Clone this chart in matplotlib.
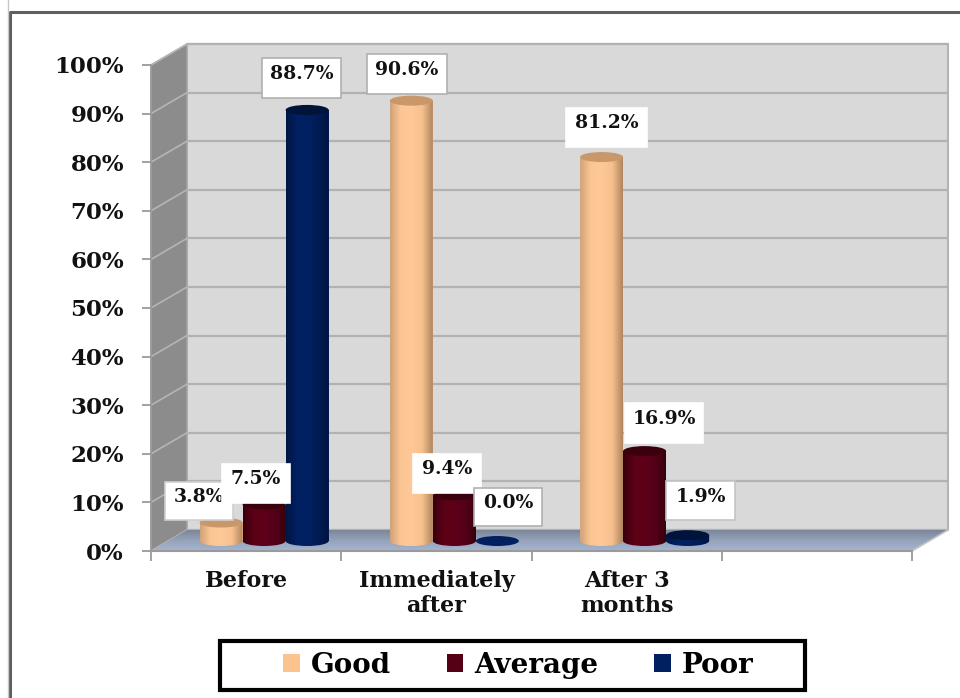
import numpy as np
import matplotlib
matplotlib.use("Agg")
import matplotlib.pyplot as plt
from matplotlib.patches import Ellipse, Patch, Rectangle, Polygon
from matplotlib.path import Path
from matplotlib.colors import LinearSegmentedColormap
from matplotlib.lines import Line2D

plt.rcParams['font.family'] = ['DejaVu Serif', 'Liberation Serif']
plt.rcParams['font.weight'] = 'bold'

categories = ["Before", "Immediately\nafter", "After 3\nmonths"]
series_names = ["Good", "Average", "Poor"]
good_heights = [3.8, 90.6, 79.0]
average_heights = [7.5, 9.4, 18.5]
poor_heights = [88.7, 0.0, 1.2]
good_labels = ["3.8%", "90.6%", "81.2%"]
average_labels = ["7.5%", "9.4%", "16.9%"]
poor_labels = ["88.7%", "0.0%", "1.9%"]
y_ticks = list(range(0, 101, 10))

W, H = 960, 698
L, R, T, B = 151, 912, 65, 551
fig = plt.figure(figsize=(W / 100, H / 100), dpi=100, facecolor='white')
ax = fig.add_axes([L / W, 1 - B / H, (R - L) / W, (B - T) / H])
ax.set_xlim(0, 4)
ax.set_ylim(0, 100)
ax.patch.set_visible(False)
pxx = 4 / (R - L)
pxy = 100 / (B - T)
DX, DY = 36 * pxx, 21 * pxy
mdx, mdy = 18 * pxx, 10 * pxy


def grad_fill(path, extent, colors, horizontal=True, z=2):
    cmap = LinearSegmentedColormap.from_list('g', colors)
    g = np.linspace(0, 1, 128)
    arr = g[None, :] if horizontal else g[:, None]
    im = ax.imshow(arr, extent=extent, cmap=cmap, aspect='auto', origin='lower',
                   zorder=z, interpolation='bilinear')
    im.set_clip_path(path, transform=ax.transData)
    im.set_clip_box(fig.bbox)
    return im


# walls
ax.add_patch(Polygon([(DX, DY), (4 + DX, DY), (4 + DX, 100 + DY), (DX, 100 + DY)],
                     fc='#d9d9d9', ec='#b4b4b4', lw=1.5, zorder=0, clip_on=False))
ax.add_patch(Polygon([(0, 0), (DX, DY), (DX, 100 + DY), (0, 100)],
                     fc='#8c8c8c', ec='#a8a8a8', lw=1, zorder=0.5, clip_on=False))
for v in y_ticks:
    ax.plot([DX, 4 + DX], [v + DY, v + DY], color='#b2b2b2', lw=1.6, zorder=1,
            clip_on=False, solid_capstyle='butt')
    ax.plot([0, DX], [v, v + DY], color='#b5b5b5', lw=1.2, zorder=1, clip_on=False)

# floor
floor_path = Path([(0, 0), (4, 0), (4 + DX, DY), (DX, DY), (0, 0)])
grad_fill(floor_path, (0, 4 + DX, 0, DY), ['#a6b5cf', '#95a3bb', '#7b8698'],
          horizontal=False, z=1.5)
ax.plot([4, 4 + DX], [0, DY], color='#c4c4c4', lw=1.2, zorder=1.6, clip_on=False)

palette = {
    "Good": (['#d0a27a', '#fcc694', '#ffc997', '#f7c08e', '#b08660'], '#c8976a'),
    "Average": (['#38000c', '#5c0016', '#5e0018', '#54001a', '#38000c'], '#3a000c'),
    "Poor": (['#001645', '#00205f', '#002163', '#001c55', '#001440'], '#001338'),
}
swatches = {"Good": '#fcc38f', "Average": '#560014', "Poor": '#002060'}

bw = 43 * pxx
eh = 10 * pxy
all_heights = [good_heights, average_heights, poor_heights]
for s, (name, heights) in enumerate(zip(series_names, all_heights)):
    cols, topc = palette[name]
    for c, h in enumerate(heights):
        xc = c + 0.5 + mdx + (s - 1) * bw
        if h > 0:
            ax.bar(xc, h, bw, bottom=mdy, color=cols[2], lw=0, zorder=3 + s)
            rp = Path([(xc - bw / 2, mdy), (xc + bw / 2, mdy), (xc + bw / 2, mdy + h),
                       (xc - bw / 2, mdy + h), (xc - bw / 2, mdy)])
            el = Ellipse((xc, mdy), bw, eh)
            ep = el.get_path().transformed(el.get_patch_transform())
            grad_fill(Path.make_compound_path(rp, ep),
                      (xc - bw / 2, xc + bw / 2, mdy - eh, mdy + h), cols, z=3 + s + 0.1)
        ax.add_patch(Ellipse((xc, mdy + h), bw, eh, fc=topc if h > 0 else '#002060',
                             lw=0, zorder=3 + s + 0.2, clip_on=False))

ax.set_xlim(0, 4)
ax.set_ylim(0, 100)

# axes
for sp in ['top', 'right']:
    ax.spines[sp].set_visible(False)
ax.spines['left'].set_color('#9a9a9a')
ax.spines['bottom'].set_color('#9a9a9a')
ax.spines['left'].set_linewidth(1.2)
ax.spines['bottom'].set_linewidth(1.5)
ax.set_yticks(y_ticks)
ax.set_yticklabels([f"{v}%" for v in y_ticks], fontsize=16.5, fontweight='bold', color='#111111')
ax.set_xticks(range(5))
ax.set_xticklabels([])
ax.set_xticks([0.5, 1.5, 2.5], minor=True)
ax.set_xticklabels(categories, minor=True, fontsize=16, fontweight='bold', color='#111111',
                   linespacing=1.15)
ax.tick_params(axis='x', which='major', length=7.5, width=1.3, color='#9a9a9a')
ax.tick_params(axis='x', which='minor', length=0, pad=14)
ax.tick_params(axis='y', length=6.5, width=1.3, color='#9a9a9a', pad=13)

# data labels (boxes given in pixels of the picture)
boxes = [
    (good_labels[0], 165, 233, 482, 520, '#cfcfcf'),
    (average_labels[0], 222, 290, 464, 503, 'white'),
    (poor_labels[0], 262, 341, 58, 98, '#b0b0b0'),
    (good_labels[1], 367, 447, 54, 94, '#b0b0b0'),
    (average_labels[1], 413, 481, 454, 493, 'white'),
    (poor_labels[1], 474, 542, 488, 526, '#b0b0b0'),
    (good_labels[2], 566, 647, 108, 147, 'white'),
    (average_labels[2], 625, 703, 403, 443, 'white'),
    (poor_labels[2], 666, 735, 481, 520, '#c4c4c4'),
]
tf = fig.transFigure
for i, (txt, x0, x1, y0, y1, ec) in enumerate(boxes):
    z = 10 + i
    fig.add_artist(Rectangle((x0 / W, 1 - y1 / H), (x1 - x0) / W, (y1 - y0) / H, fc='white',
                             ec=ec, lw=1.2, transform=tf, zorder=z))
    fig.text((x0 + x1) / 2 / W, 1 - ((y0 + y1) / 2 - 4) / H, txt, ha='center', va='center',
             fontsize=13.5, fontweight='bold', color='#111111', zorder=z + 0.5)
ax.set_zorder(1)

# outer frame
fig.add_artist(Line2D([10 / W, 10 / W, 1], [0, 1 - 12 / H, 1 - 12 / H], color='#5f5f5f', lw=2.2,
                      transform=tf))
fig.add_artist(Line2D([8 / W, 8 / W], [0, 1], color='#c8c8c8', lw=1, transform=tf))

# legend
fig.add_artist(Rectangle((220 / W, 1 - 690 / H), 585 / W, 49 / H, fc='white', ec='black', lw=3,
                         transform=tf, zorder=29))
handles = [Patch(fc=swatches[n], ec='none', label=n) for n in series_names]
leg = fig.legend(handles=handles, loc='center', bbox_to_anchor=(518.5 / W, 1 - 665.5 / H), ncol=3,
                 frameon=False,
                 prop={'family': 'DejaVu Serif', 'weight': 'bold', 'size': 20},
                 handlelength=0.6, handleheight=0.6, handletextpad=0.4, columnspacing=2.0,
                 borderpad=0, borderaxespad=0)
leg.set_zorder(30)

fig.savefig('out.png', dpi=100, facecolor='white')
